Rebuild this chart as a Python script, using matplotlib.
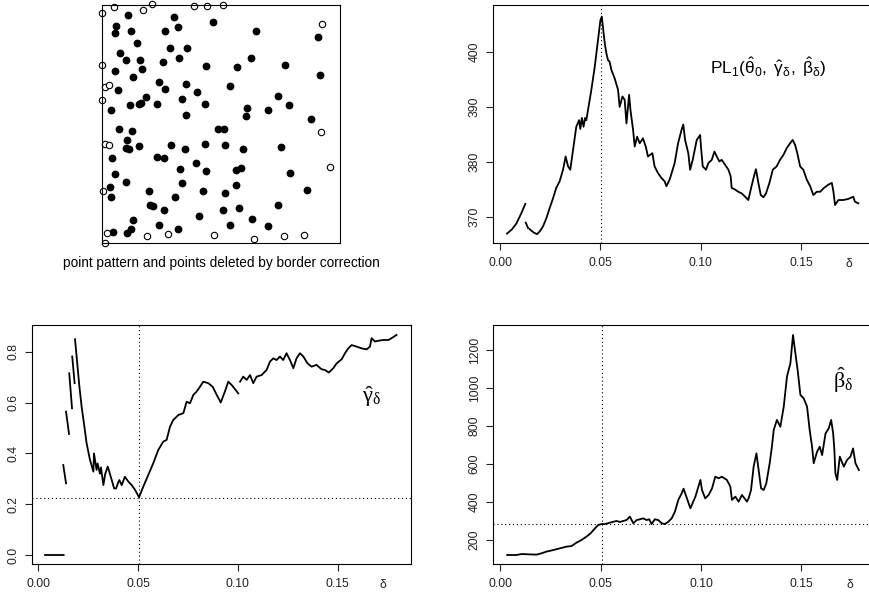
import numpy as np
import matplotlib
matplotlib.use('Agg')
import matplotlib.pyplot as plt

plt.rcParams.update({
    'font.family': ['Liberation Sans', 'DejaVu Sans'],
    'mathtext.fontset': 'custom',
    'mathtext.rm': 'Liberation Sans',
    'mathtext.it': 'Liberation Sans:italic',
    'mathtext.bf': 'Liberation Sans:bold',
    'mathtext.default': 'regular',
})

nan = np.nan

# ---------------- point pattern (unit square) ----------------
kept_x = [0.111, 0.303, 0.465, 0.059, 0.318, 0.056, 0.123, 0.263, 0.646, 0.908,
          0.147, 0.286, 0.357, 0.076, 0.101, 0.160, 0.256, 0.324, 0.626, 0.769,
          0.438, 0.566, 0.056, 0.168, 0.129, 0.915, 0.239, 0.354, 0.263, 0.539,
          0.067, 0.398, 0.738, 0.186, 0.336, 0.165, 0.157, 0.116, 0.230, 0.431,
          0.787, 0.609, 0.038, 0.696, 0.353, 0.604, 0.880, 0.073, 0.127, 0.489,
          0.511, 0.106, 0.101, 0.115, 0.157, 0.290, 0.431, 0.517, 0.349, 0.594,
          0.751, 0.042, 0.231, 0.261, 0.394, 0.583, 0.564, 0.326, 0.436, 0.790,
          0.056, 0.101, 0.335, 0.563, 0.034, 0.036, 0.199, 0.426, 0.517, 0.861,
          0.308, 0.202, 0.213, 0.261, 0.510, 0.577, 0.738, 0.408, 0.630, 0.129,
          0.239, 0.538, 0.696, 0.123, 0.321, 0.104, 0.045]
kept_y = [0.958, 0.951, 0.928, 0.912, 0.907, 0.882, 0.892, 0.892, 0.891, 0.864,
          0.839, 0.819, 0.820, 0.799, 0.767, 0.769, 0.760, 0.777, 0.777, 0.750,
          0.742, 0.741, 0.724, 0.729, 0.698, 0.704, 0.675, 0.670, 0.648, 0.661,
          0.644, 0.634, 0.619, 0.614, 0.604, 0.590, 0.582, 0.581, 0.582, 0.582,
          0.579, 0.567, 0.557, 0.557, 0.539, 0.533, 0.519, 0.478, 0.471, 0.478,
          0.478, 0.433, 0.401, 0.396, 0.408, 0.412, 0.418, 0.411, 0.393, 0.394,
          0.404, 0.359, 0.360, 0.358, 0.335, 0.316, 0.307, 0.310, 0.302, 0.295,
          0.290, 0.257, 0.250, 0.244, 0.236, 0.192, 0.220, 0.220, 0.210, 0.224,
          0.192, 0.160, 0.156, 0.140, 0.139, 0.147, 0.160, 0.115, 0.102, 0.097,
          0.074, 0.076, 0.073, 0.060, 0.060, 0.043, 0.048]
deleted_x = [0.050, 0.171, 0.209, 0.388, 0.443, 0.510, 0.000, 0.926, 0.000, 0.013,
             0.029, 0.000, 0.919, 0.013, 0.029, 0.958, 0.004, 0.022, 0.013, 0.190,
             0.276, 0.472, 0.637, 0.763, 0.847]
deleted_y = [0.990, 0.979, 1.003, 0.996, 0.996, 1.000, 0.968, 0.919, 0.748, 0.656,
             0.665, 0.600, 0.467, 0.415, 0.411, 0.321, 0.219, 0.043, 0.000, 0.028,
             0.039, 0.034, 0.017, 0.029, 0.034]

# ---------------- profile pseudo-likelihood ----------------
pl_delta = [0.0035, 0.0060, 0.0081, 0.0105, 0.0126, nan,
            0.0128, 0.0140, nan, 0.0148, 0.0161, nan,
            0.0168, 0.0184, 0.0198, 0.0214, 0.0231, 0.0247, 0.0264, 0.0280, 0.0297,
            0.0314, 0.0327, 0.0339, 0.0350, 0.0364, 0.0380, 0.0394, 0.0400, 0.0408,
            0.0416, 0.0424, 0.0430, 0.0438, 0.0455, 0.0472, 0.0488, 0.0500, 0.0507,
            0.0513, 0.0522, 0.0530, 0.0538, 0.0546, 0.0555, 0.0571, 0.0588, 0.0596,
            0.0610, 0.0621, 0.0630, 0.0643, 0.0650, 0.0663, 0.0671, 0.0683, 0.0696,
            0.0712, 0.0726, 0.0737, 0.0759, 0.0770, 0.0787, 0.0804, 0.0820, 0.0829,
            0.0845, 0.0870, 0.0887, 0.0904, 0.0913, 0.0922, 0.0938, 0.0947, 0.0960,
            0.0980, 0.0997, 0.1001, 0.1010, 0.1026, 0.1038, 0.1055, 0.1068, 0.1080,
            0.1093, 0.1104, 0.1121, 0.1138, 0.1149, 0.1154, 0.1171, 0.1187, 0.1204,
            0.1221, 0.1237, 0.1249, 0.1265, 0.1275, 0.1287, 0.1299, 0.1312, 0.1325,
            0.1342, 0.1359, 0.1378, 0.1395, 0.1412, 0.1428, 0.1445, 0.1458, 0.1470,
            0.1481, 0.1495, 0.1511, 0.1528, 0.1545, 0.1561, 0.1578, 0.1595, 0.1614,
            0.1636, 0.1653, 0.1661, 0.1669, 0.1686, 0.1711, 0.1735, 0.1760, 0.1768,
            0.1785]
pl_value = [367.0, 367.8, 368.8, 370.6, 372.4, nan,
            369.0, 368.0, nan, 367.8, 367.4, nan,
            367.2, 366.9, 367.4, 368.3, 369.8, 371.6, 373.4, 375.3, 376.5,
            378.6, 381.0, 379.2, 378.6, 382.2, 386.4, 387.6, 386.0, 388.0,
            386.4, 388.0, 387.6, 389.4, 393.1, 397.3, 402.1, 405.7, 406.4,
            404.5, 401.5, 399.7, 398.5, 398.2, 396.7, 395.2, 393.1, 390.0,
            391.9, 391.3, 387.0, 392.2, 389.4, 385.8, 382.8, 384.6, 383.4,
            384.3, 382.8, 381.0, 381.6, 379.2, 378.0, 377.1, 376.5, 375.6,
            376.8, 379.8, 383.4, 385.8, 386.8, 384.0, 381.6, 378.6, 380.4,
            384.0, 384.9, 382.8, 379.2, 378.6, 379.8, 380.4, 381.9, 381.0,
            380.1, 380.4, 379.5, 378.6, 377.4, 375.3, 375.0, 374.6, 374.3,
            373.7, 373.1, 375.0, 377.4, 378.7, 376.2, 374.0, 373.6, 374.3,
            376.2, 378.6, 379.2, 380.4, 381.3, 382.5, 383.4, 384.0, 383.1,
            381.6, 379.2, 378.6, 376.8, 375.6, 374.0, 374.6, 374.6, 375.3,
            375.9, 376.2, 374.6, 372.2, 373.1, 373.1, 373.3, 373.7, 372.8,
            372.5]

# ---------------- gamma estimate ----------------
gamma_delta = [0.0034, 0.0127, nan,
               0.0125, 0.0139, nan,
               0.0139, 0.0154, nan,
               0.0155, 0.0169, nan,
               0.0170, 0.0182, nan,
               0.0184, 0.0192, 0.0206, 0.0217, 0.0231, 0.0242, 0.0259, 0.0276, 0.0279,
               0.0292, 0.0297, 0.0309, 0.0314, 0.0326, 0.0335, 0.0348, 0.0368, 0.0380,
               0.0390, 0.0400, 0.0406, 0.0418, 0.0434, 0.0451, 0.0468, 0.0485, 0.0505,
               0.0526, 0.0551, 0.0576, 0.0601, 0.0626, 0.0643, 0.0660, 0.0676, 0.0702,
               0.0727, 0.0743, 0.0760, 0.0777, 0.0793, 0.0810, 0.0827, 0.0852, 0.0874,
               0.0894, 0.0914, 0.0935, 0.0952, 0.0969, 0.1002, nan,
               0.1011, 0.1027, 0.1044, 0.1061, 0.1077, 0.1094, 0.1119, 0.1144, 0.1161,
               0.1178, 0.1194, 0.1211, 0.1227, 0.1244, 0.1261, 0.1278, 0.1294, 0.1311,
               0.1328, 0.1349, 0.1369, 0.1394, 0.1419, 0.1436, 0.1456, 0.1478, 0.1495,
               0.1520, 0.1537, 0.1553, 0.1570, 0.1595, 0.1620, 0.1645, 0.1662, 0.1670,
               0.1687, 0.1704, 0.1728, 0.1754, 0.1770, 0.1795]
gamma_value = [0.0, 0.0, nan,
               0.354, 0.282, nan,
               0.564, 0.476, nan,
               0.715, 0.577, nan,
               0.781, 0.676, nan,
               0.849, 0.781, 0.662, 0.584, 0.505, 0.440, 0.374, 0.328, 0.400,
               0.335, 0.360, 0.320, 0.345, 0.275, 0.318, 0.348, 0.295, 0.262,
               0.262, 0.285, 0.295, 0.275, 0.308, 0.289, 0.275, 0.256, 0.227,
               0.269, 0.315, 0.361, 0.413, 0.446, 0.453, 0.505, 0.531, 0.551,
               0.558, 0.603, 0.597, 0.630, 0.643, 0.662, 0.682, 0.676, 0.662,
               0.630, 0.600, 0.643, 0.682, 0.669, 0.636, nan,
               0.682, 0.702, 0.689, 0.708, 0.676, 0.702, 0.708, 0.728, 0.761,
               0.774, 0.767, 0.781, 0.767, 0.794, 0.767, 0.735, 0.774, 0.794,
               0.781, 0.754, 0.741, 0.748, 0.731, 0.728, 0.718, 0.735, 0.754,
               0.770, 0.794, 0.813, 0.826, 0.820, 0.813, 0.809, 0.820, 0.853,
               0.840, 0.843, 0.846, 0.846, 0.853, 0.866]

# ---------------- beta estimate ----------------
beta_delta = [0.0035, 0.0081, 0.0106, 0.0131, 0.0181, 0.0206, 0.0231, 0.0264, 0.0297,
              0.0330, 0.0355, 0.0380, 0.0405, 0.0430, 0.0450, 0.0472, 0.0488, 0.0505,
              0.0522, 0.0546, 0.0563, 0.0580, 0.0596, 0.0613, 0.0629, 0.0646, 0.0663,
              0.0680, 0.0696, 0.0712, 0.0729, 0.0742, 0.0754, 0.0770, 0.0787, 0.0804,
              0.0820, 0.0837, 0.0854, 0.0870, 0.0887, 0.0904, 0.0913, 0.0930, 0.0947,
              0.0972, 0.0997, 0.1005, 0.1021, 0.1038, 0.1055, 0.1071, 0.1088, 0.1104,
              0.1129, 0.1146, 0.1154, 0.1171, 0.1187, 0.1204, 0.1229, 0.1237, 0.1249,
              0.1262, 0.1276, 0.1287, 0.1299, 0.1312, 0.1325, 0.1342, 0.1353, 0.1362,
              0.1378, 0.1395, 0.1412, 0.1428, 0.1445, 0.1458, 0.1470, 0.1481, 0.1495,
              0.1511, 0.1528, 0.1541, 0.1553, 0.1561, 0.1578, 0.1591, 0.1603, 0.1620,
              0.1636, 0.1648, 0.1658, 0.1664, 0.1669, 0.1678, 0.1691, 0.1711, 0.1727,
              0.1744, 0.1757, 0.1769, 0.1786]
beta_value = [121, 121, 126, 125, 123, 130, 139, 147, 156,
              165, 168, 186, 200, 218, 235, 261, 279, 284,
              284, 291, 296, 300, 295, 300, 305, 323, 288,
              305, 309, 314, 305, 309, 284, 309, 305, 288,
              284, 296, 314, 349, 411, 446, 470, 419, 367,
              428, 516, 463, 419, 437, 472, 533, 525, 533,
              516, 481, 411, 428, 402, 437, 402, 419, 463,
              586, 656, 568, 472, 463, 498, 604, 691, 779,
              832, 796, 902, 1060, 1130, 1279, 1182, 1095, 963,
              946, 902, 779, 691, 604, 665, 691, 647, 761,
              788, 832, 761, 674, 551, 516, 639, 586, 621,
              639, 682, 604, 568]

delta_hat = 0.0505
gamma_hat = 0.223
beta_hat = 282

xtick_vals = [0.0, 0.05, 0.10, 0.15]
xtick_labels = ['0.00', '0.05', '0.10', '0.15']
delta_label_pos = 0.174

fig = plt.figure(figsize=(8.69, 5.96), dpi=100)

LW_SP = 0.8


def style_axes(ax, yticks, ylabels, dpos):
    for s in ax.spines.values():
        s.set_linewidth(LW_SP)
    ax.set_xticks(xtick_vals + [dpos])
    ax.set_xticklabels(xtick_labels + [r'$\delta$'])
    ax.xaxis.get_major_ticks()[-1].tick1line.set_visible(False)
    ax.xaxis.get_major_ticks()[-1].label1.set_fontsize(10)
    ax.set_yticks(yticks)
    ax.set_yticklabels(ylabels, rotation=90, va='center')
    ax.tick_params(direction='out', length=5, width=0.8, labelsize=8.7, pad=5,
                   colors='#222222')
    ax.tick_params(axis='y', pad=4)


# top-left: point pattern
ax1 = fig.add_axes([0.1174, 0.5923, 0.2739, 0.3993])
ax1.set_xlim(0, 1)
ax1.set_ylim(0, 1)
ax1.set_xticks([])
ax1.set_yticks([])
for s in ax1.spines.values():
    s.set_linewidth(LW_SP)
ax1.plot(kept_x, kept_y, 'o', ms=4.6, color='black', clip_on=False)
ax1.plot(deleted_x, deleted_y, 'o', ms=4.6, mfc='white', mec='black', mew=0.8,
         clip_on=False)
fig.text(221 / 869, 1 - 263 / 596,
         'point pattern and points deleted by border correction',
         ha='center', va='center', fontsize=9.8)

# top-right: profile likelihood
ax2 = fig.add_axes([0.5673, 0.5923, 0.4396, 0.3993])
ax2.plot(pl_delta, pl_value, color='black', lw=1.3)
ax2.axvline(delta_hat, color='black', lw=0.8, ls=(0, (1, 2.5)))
ax2.set_xlim(-0.0035, 0.1868)
ax2.set_ylim(365.3, 408.5)
style_axes(ax2, [370, 380, 390, 400], ['370', '380', '390', '400'], delta_label_pos)
ax2.text(0.1338, 397.2,
         r'PL$_1(\hat{\theta}_0,\ \hat{\gamma}_\delta,\ \hat{\beta}_\delta)$',
         ha='center', va='center', fontsize=12.5)

# bottom-left: gamma
ax3 = fig.add_axes([0.0365, 0.0537, 0.4361, 0.401])
ax3.plot(gamma_delta, gamma_value, color='black', lw=1.3)
ax3.axvline(delta_hat, color='black', lw=0.8, ls=(0, (1, 2.5)))
ax3.axhline(gamma_hat, color='black', lw=0.8, ls=(0, (1, 2.5)))
ax3.set_xlim(-0.0033, 0.1866)
ax3.set_ylim(-0.0354, 0.905)
style_axes(ax3, [0.0, 0.2, 0.4, 0.6, 0.8], ['0.0', '0.2', '0.4', '0.6', '0.8'], 0.173)
ax3.text(0.167, 0.623, r'$\hat{\gamma}_\delta$', ha='center', va='center',
         fontsize=16, family='Liberation Serif')

# bottom-right: beta
ax4 = fig.add_axes([0.5677, 0.0537, 0.4396, 0.401])
ax4.plot(beta_delta, beta_value, color='black', lw=1.3)
ax4.axvline(delta_hat, color='black', lw=0.8, ls=(0, (1, 2.5)))
ax4.axhline(beta_hat, color='black', lw=0.8, ls=(0, (1, 2.5)))
ax4.set_xlim(-0.0034, 0.1868)
ax4.set_ylim(73.7, 1331.6)
style_axes(ax4, [200, 400, 600, 800, 1000, 1200],
           ['200', '400', '600', '800', '1000', '1200'], delta_label_pos)
ax4.text(0.171, 1042, r'$\hat{\beta}_\delta$', ha='center', va='center',
         fontsize=16, family='Liberation Serif')

fig.savefig('out.png', dpi=100)
